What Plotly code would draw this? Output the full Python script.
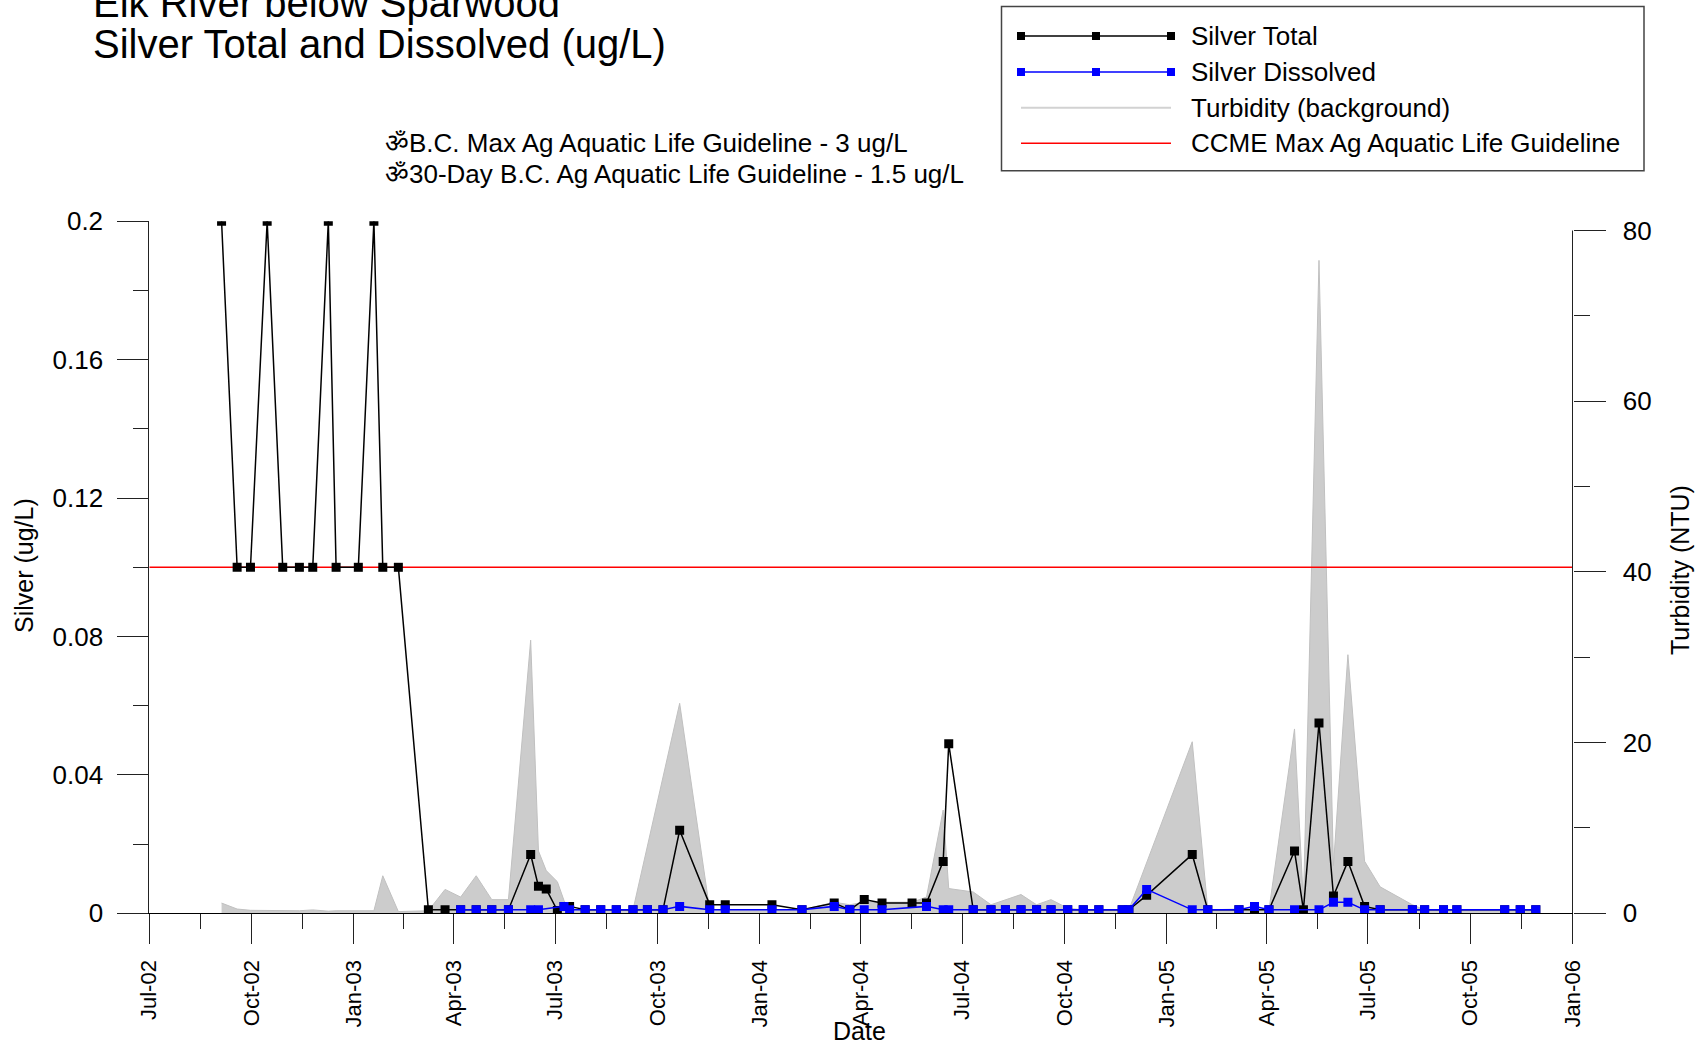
import pandas as pd
import plotly.graph_objects as go

# ------------------------------------------------------------------ data
total_dates = [
    "2002-09-04", "2002-09-18", "2002-09-30", "2002-10-15", "2002-10-29", "2002-11-13",
    "2002-11-25", "2002-12-09", "2002-12-16", "2003-01-05", "2003-01-19", "2003-01-27",
    "2003-02-10", "2003-03-09", "2003-03-24", "2003-04-07", "2003-04-21", "2003-05-05",
    "2003-05-20", "2003-06-09", "2003-06-16", "2003-06-23", "2003-07-03", "2003-07-09",
    "2003-07-14", "2003-07-28", "2003-08-11", "2003-08-25", "2003-09-09", "2003-09-22",
    "2003-10-06", "2003-10-21", "2003-11-17", "2003-12-01", "2004-01-12", "2004-02-08",
    "2004-03-08", "2004-03-22", "2004-04-04", "2004-04-20", "2004-05-17", "2004-05-30",
    "2004-06-14", "2004-06-19", "2004-07-11", "2004-07-27", "2004-08-09", "2004-08-23",
    "2004-09-06", "2004-09-19", "2004-10-04", "2004-10-18", "2004-11-01", "2004-11-22",
    "2004-11-28", "2004-12-14", "2005-01-24", "2005-02-07", "2005-03-07", "2005-03-21",
    "2005-04-03", "2005-04-26", "2005-05-04", "2005-05-18", "2005-05-31", "2005-06-13",
    "2005-06-28", "2005-07-12", "2005-08-10", "2005-08-21", "2005-09-07", "2005-09-19",
    "2005-11-01", "2005-11-15", "2005-11-29",
]
total_values = [
    0.2, 0.1, 0.1, 0.2, 0.1, 0.1,
    0.1, 0.2, 0.1, 0.1, 0.2, 0.1,
    0.1, 0.001, 0.001, 0.001, 0.001, 0.001,
    0.001, 0.017, 0.0078, 0.007, 0.0008, 0.002,
    0.002, 0.001, 0.001, 0.001, 0.001, 0.001,
    0.001, 0.024, 0.0025, 0.0025, 0.0025, 0.001,
    0.003, 0.001, 0.004, 0.003, 0.003, 0.003,
    0.015, 0.049, 0.001, 0.001, 0.001, 0.001,
    0.001, 0.001, 0.001, 0.001, 0.001, 0.001,
    0.001, 0.0052, 0.017, 0.001, 0.001, 0.001,
    0.001, 0.018, 0.001, 0.055, 0.005, 0.015,
    0.002, 0.001, 0.001, 0.001, 0.001, 0.001,
    0.001, 0.001, 0.001,
]

dissolved_dates = [
    "2003-04-07", "2003-04-21", "2003-05-05", "2003-05-20", "2003-06-09", "2003-06-16",
    "2003-07-09", "2003-07-14", "2003-07-28", "2003-08-11", "2003-08-25", "2003-09-09",
    "2003-09-22", "2003-10-06", "2003-10-21", "2003-11-17", "2003-12-01", "2004-01-12",
    "2004-02-08", "2004-03-08", "2004-03-22", "2004-04-04", "2004-04-20", "2004-05-30",
    "2004-06-14", "2004-06-19", "2004-07-11", "2004-07-27", "2004-08-09", "2004-08-23",
    "2004-09-06", "2004-09-19", "2004-10-04", "2004-10-18", "2004-11-01", "2004-11-22",
    "2004-11-28", "2004-12-14", "2005-01-24", "2005-02-07", "2005-03-07", "2005-03-21",
    "2005-04-03", "2005-04-26", "2005-05-18", "2005-05-31", "2005-06-13", "2005-06-28",
    "2005-07-12", "2005-08-10", "2005-08-21", "2005-09-07", "2005-09-19", "2005-11-01",
    "2005-11-15", "2005-11-29",
]
dissolved_values = [
    0.001, 0.001, 0.001, 0.001, 0.001, 0.001,
    0.002, 0.001, 0.001, 0.001, 0.001, 0.001,
    0.001, 0.001, 0.002, 0.001, 0.001, 0.001,
    0.001, 0.002, 0.001, 0.001, 0.001, 0.002,
    0.001, 0.001, 0.001, 0.001, 0.001, 0.001,
    0.001, 0.001, 0.001, 0.001, 0.001, 0.001,
    0.001, 0.0069, 0.001, 0.001, 0.001, 0.002,
    0.001, 0.001, 0.001, 0.0032, 0.0032, 0.001,
    0.001, 0.001, 0.001, 0.001, 0.001, 0.001,
    0.001, 0.001,
]

turbidity_dates = [
    "2002-09-04", "2002-09-18", "2002-09-30", "2002-10-15", "2002-10-29", "2002-11-13",
    "2002-11-25", "2002-12-09", "2002-12-16", "2003-01-05", "2003-01-19", "2003-01-27",
    "2003-02-10", "2003-03-09", "2003-03-24", "2003-04-07", "2003-04-21", "2003-05-05",
    "2003-05-20", "2003-06-09", "2003-06-16", "2003-06-23", "2003-07-03", "2003-07-09",
    "2003-07-14", "2003-07-28", "2003-08-11", "2003-08-25", "2003-09-09", "2003-10-21",
    "2003-11-17", "2003-12-01", "2004-01-12", "2004-02-08", "2004-03-08", "2004-03-22",
    "2004-04-04", "2004-04-20", "2004-05-17", "2004-05-30", "2004-06-14", "2004-06-19",
    "2004-07-11", "2004-07-27", "2004-08-09", "2004-08-23", "2004-09-06", "2004-09-19",
    "2004-10-04", "2004-10-18", "2004-11-01", "2004-11-22", "2004-11-28", "2005-01-24",
    "2005-02-07", "2005-03-07", "2005-03-21", "2005-04-03", "2005-04-26", "2005-05-04",
    "2005-05-18", "2005-05-31", "2005-06-13", "2005-06-28", "2005-07-12", "2005-08-10",
    "2005-08-21", "2005-09-07", "2005-09-19", "2005-11-01", "2005-11-15", "2005-11-29",
]
turbidity_values = [
    1.2, 0.5, 0.35, 0.35, 0.3, 0.3,
    0.4, 0.25, 0.3, 0.3, 0.3, 4.4,
    0.2, 0.3, 2.8, 1.9, 4.4, 1.6,
    1.6, 32.0, 7.3, 5.0, 3.7, 1.5,
    0.4, 0.3, 0.3, 0.3, 0.4, 24.6,
    0.4, 0.3, 0.3, 0.4, 1.3, 1.0,
    1.3, 1.3, 1.3, 1.9, 12.1, 2.9,
    2.5, 1.0, 1.6, 2.2, 1.0, 1.6,
    0.6, 0.4, 0.4, 0.4, 0.4, 20.1,
    0.4, 0.5, 0.5, 0.4, 21.6, 1.2,
    76.5, 5.6, 30.3, 6.1, 3.1, 1.0,
    0.4, 0.3, 0.3, 0.3, 0.3, 0.3,
]

ccme_guideline = 0.1

x_tick_dates = [
    "2002-07-01", "2002-10-01", "2003-01-01", "2003-04-01", "2003-07-01",
    "2003-10-01", "2004-01-01", "2004-04-01", "2004-07-01", "2004-10-01",
    "2005-01-01", "2005-04-01", "2005-07-01", "2005-10-01", "2006-01-01",
]
x_tick_labels = [
    "Jul-02", "Oct-02", "Jan-03", "Apr-03", "Jul-03", "Oct-03", "Jan-04", "Apr-04",
    "Jul-04", "Oct-04", "Jan-05", "Apr-05", "Jul-05", "Oct-05", "Jan-06",
]
silver_ticks = [0, 0.04, 0.08, 0.12, 0.16, 0.2]
silver_tick_labels = ["0", "0.04", "0.08", "0.12", "0.16", "0.2"]
turbidity_ticks = [0, 20, 40, 60, 80]
turbidity_tick_labels = ["0", "20", "40", "60", "80"]

# ------------------------------------------------------------------ layout geometry (pixels)
W, H = 1705, 1045
PX_LEFT, PX_RIGHT = 149.3, 1572.5
PX_TOP, PX_BOTTOM = 221.3, 913.3      # silver 0.2 .. 0
PX_TURB_TOP = 230.5                   # turbidity 80
FONT = "Liberation Sans, Arial, sans-serif"
AXC = "#222222"


def px(x):
    return x / W


def py(y):
    return 1 - y / H


turb_top = turbidity_ticks[-1] * (PX_BOTTOM - PX_TOP) / (PX_BOTTOM - PX_TURB_TOP)

tick_ts = pd.to_datetime(x_tick_dates)
minor_vals = [(a + (b - a) / 2).strftime("%Y-%m-%d %H:%M") for a, b in zip(tick_ts[:-1], tick_ts[1:])]

fig = go.Figure()

fig.add_trace(go.Scatter(
    x=turbidity_dates, y=turbidity_values, mode="lines", fill="tozeroy",
    fillcolor="rgb(204,204,204)", line=dict(color="rgb(192,192,192)", width=1),
    yaxis="y", showlegend=False, name="Turbidity (background)",
))
fig.add_trace(go.Scatter(
    x=[x_tick_dates[0], x_tick_dates[-1]], y=[ccme_guideline, ccme_guideline],
    mode="lines", line=dict(color="#ff0000", width=1.5), yaxis="y2",
    showlegend=False, name="CCME Max Ag Aquatic Life Guideline",
))
fig.add_trace(go.Scatter(
    x=total_dates, y=total_values, mode="lines+markers",
    line=dict(color="#000000", width=1.5),
    marker=dict(symbol="square", size=9, color="#000000"),
    yaxis="y2", showlegend=False, name="Silver Total",
))
fig.add_trace(go.Scatter(
    x=dissolved_dates, y=dissolved_values, mode="lines+markers",
    line=dict(color="#0000ff", width=1.5),
    marker=dict(symbol="square", size=9, color="#0000ff"),
    yaxis="y2", showlegend=False, name="Silver Dissolved",
))

x_dom = [px(PX_LEFT), px(PX_RIGHT)]
y_dom = [py(PX_BOTTOM), py(PX_TOP)]

fig.update_layout(
    template="none",
    width=W, height=H, autosize=False,
    margin=dict(l=0, r=0, t=0, b=0, pad=0),
    paper_bgcolor="white", plot_bgcolor="rgba(0,0,0,0)",
    font=dict(family=FONT, color="black"),
    showlegend=False,
    xaxis=dict(
        type="date", domain=x_dom, range=[x_tick_dates[0], x_tick_dates[-1]],
        automargin=False,
        tickmode="array", tickvals=x_tick_dates, ticktext=x_tick_labels,
        tickangle=-90, ticks="outside", ticklen=30, tickwidth=1, tickcolor=AXC,
        tickfont=dict(size=22, family=FONT, color="black"), ticklabelstandoff=7,
        showline=True, linecolor="#000000", linewidth=1,
        showgrid=False, zeroline=False, anchor="y",
        minor=dict(tickmode="array", tickvals=minor_vals, ticks="outside",
                   ticklen=15, tickwidth=1, tickcolor=AXC, showgrid=False),
    ),
    yaxis=dict(
        domain=y_dom, range=[0, turb_top], side="right", anchor="x",
        automargin=False,
        tickmode="array", tickvals=turbidity_ticks, ticktext=turbidity_tick_labels,
        ticks="outside", ticklen=32, tickwidth=1, tickcolor=AXC,
        tickfont=dict(size=26, family=FONT, color="black"), ticklabelstandoff=12,
        showline=False, showgrid=False, zeroline=False,
        minor=dict(dtick=10, tick0=0, ticks="outside", ticklen=16, tickwidth=1,
                   tickcolor=AXC, showgrid=False),
    ),
    yaxis2=dict(
        overlaying="y", side="left", anchor="x", range=[0, 0.2],
        automargin=False,
        tickmode="array", tickvals=silver_ticks, ticktext=silver_tick_labels,
        ticks="outside", ticklen=31, tickwidth=1, tickcolor=AXC,
        tickfont=dict(size=26, family=FONT, color="black"), ticklabelstandoff=9,
        showline=True, linecolor=AXC, linewidth=1,
        showgrid=False, zeroline=False,
        minor=dict(dtick=0.02, tick0=0, ticks="outside", ticklen=15, tickwidth=1,
                   tickcolor=AXC, showgrid=False),
    ),
)

# right axis line (from 0 to 80 only)
fig.add_shape(type="line", xref="x domain", yref="y", x0=1, x1=1, y0=0,
              y1=turbidity_ticks[-1], line=dict(color=AXC, width=1))


# ------------------------------------------------------------------ texts
def text(s, x, y, size, xanchor="left", angle=0):
    fig.add_annotation(text=s, x=px(x), y=py(y), xref="paper", yref="paper",
                       xanchor=xanchor, yanchor="middle", showarrow=False,
                       textangle=angle, font=dict(size=size, family=FONT, color="black"))


text("Elk River below Sparwood", 91, 3, 40)
text("Silver Total and Dissolved (ug/L)", 91, 44, 40)
text("\u0950B.C. Max Ag Aquatic Life Guideline - 3 ug/L", 383, 143.5, 26)
text("\u095030-Day B.C. Ag Aquatic Life Guideline - 1.5 ug/L", 383, 174, 26)
text("Silver (ug/L)", 24, 566, 25, xanchor="center", angle=-90)
text("Turbidity (NTU)", 1680, 570, 25, xanchor="center", angle=-90)
text("Date", 859, 1031, 25, xanchor="center")

# ------------------------------------------------------------------ manual legend
LEG_BOX = (1001.5, 6.5, 1644, 170.7)
LEG_X0, LEG_X1, LEG_TX = 1021, 1171, 1189
legend_rows = [
    ("Silver Total", "#000000", 1.5, True, 36),
    ("Silver Dissolved", "#0000ff", 1.5, True, 72),
    ("Turbidity (background)", "rgb(210,210,210)", 2, False, 107.7),
    ("CCME Max Ag Aquatic Life Guideline", "#ff0000", 1.5, False, 143.3),
]
fig.add_shape(type="rect", xref="paper", yref="paper",
              x0=px(LEG_BOX[0]), x1=px(LEG_BOX[2]), y0=py(LEG_BOX[3]), y1=py(LEG_BOX[1]),
              line=dict(color="#444444", width=1.5), fillcolor="rgba(0,0,0,0)")
for label, color, width, has_marker, yy in legend_rows:
    fig.add_shape(type="line", xref="paper", yref="paper",
                  x0=px(LEG_X0), x1=px(LEG_X1), y0=py(yy), y1=py(yy),
                  line=dict(color=color, width=width))
    if has_marker:
        for mx in (LEG_X0, (LEG_X0 + LEG_X1) / 2, LEG_X1):
            fig.add_shape(type="rect", xref="paper", yref="paper",
                          x0=px(mx - 4), x1=px(mx + 4), y0=py(yy + 4), y1=py(yy - 4),
                          line=dict(width=0), fillcolor=color)
    text(label, LEG_TX, yy, 26)

fig.write_html(
    "out.html",
    config={"displayModeBar": False},
    post_script="document.body.style.margin='0';document.body.style.overflow='hidden';",
)
